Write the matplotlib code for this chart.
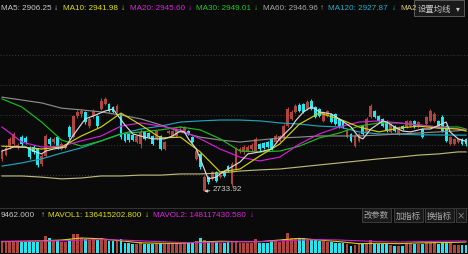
import numpy as np
import matplotlib.pyplot as plt
from matplotlib.patches import Rectangle

W, H = 468, 255
BG = '#0a0a0a'
UP = '#b0443e'
DOWN = '#22e6f0'
LATIN = ['Liberation Sans', 'DejaVu Sans']
CJK = ['Noto Sans CJK SC', 'DejaVu Sans']

# daily candles (index points)
opens = [2846, 2859, 2890, 2897, 2887, 2921, 2918, 2884, 2887, 2880,
         2828, 2856, 2915, 2904, 2921, 2880, 2884, 2956, 2921, 2994,
         3001, 3008, 2959, 2994, 2994, 3018, 3035, 3035, 3025, 3008,
         3001, 2932, 2932, 2928, 2904, 2897, 2939, 2935, 2925, 2915,
         2925, 2880, 2935, 2925, 2925, 2953, 2942, 2942, 2921, 2846,
         2863, 2736, 2783, 2777, 2801, 2783, 2801, 2821, 2759, 2811,
         2873, 2870, 2873, 2880, 2873, 2897, 2901, 2904, 2915, 2904,
         2908, 2921, 2959, 2984, 3008, 3032, 3035, 3018, 3046, 3025,
         3018, 2977, 2994, 3001, 3001, 2984, 2977, 2921, 2932, 2890,
         2908, 2959, 2939, 2990, 3011, 2994, 2984, 2977, 2939, 2959,
         2932, 2959, 2956, 2959, 2977, 2956, 2949, 2966, 2977, 2977,
         2977, 2990, 2959, 2897, 2897, 2904, 2915, 2915]
closes = [2873, 2884, 2915, 2932, 2894, 2897, 2904, 2852, 2870, 2825,
          2856, 2925, 2897, 2915, 2887, 2897, 2890, 2921, 2994, 3008,
          3011, 2973, 2984, 3011, 2959, 3046, 3053, 3011, 3008, 3028,
          2921, 2908, 2911, 2911, 2925, 2939, 2915, 2921, 2897, 2942,
          2880, 2904, 2942, 2942, 2949, 2956, 2956, 2932, 2904, 2873,
          2818, 2783, 2766, 2801, 2770, 2790, 2787, 2804, 2828, 2880,
          2880, 2887, 2887, 2894, 2915, 2880, 2884, 2887, 2880, 2925,
          2925, 2959, 3018, 3008, 3028, 3011, 3008, 3042, 3018, 2990,
          2994, 3008, 3011, 2973, 2966, 2956, 2956, 2942, 2908, 2925,
          2932, 2932, 2984, 3028, 2990, 2977, 2959, 2942, 2966, 2942,
          2956, 2949, 2977, 2977, 2956, 2973, 2921, 2990, 3011, 3001,
          2956, 2942, 2908, 2921, 2915, 2915, 2897, 2897]
highs = [2880, 2894, 2921, 2939, 2901, 2928, 2925, 2890, 2894, 2884,
         2863, 2932, 2921, 2921, 2925, 2904, 2897, 2963, 2997, 3015,
         3018, 3011, 2990, 3018, 2997, 3056, 3059, 3039, 3028, 3035,
         3004, 2935, 2935, 2932, 2928, 2949, 2942, 2939, 2928, 2946,
         2928, 2908, 2946, 2946, 2953, 2959, 2959, 2946, 2925, 2880,
         2866, 2790, 2787, 2804, 2804, 2794, 2804, 2825, 2835, 2887,
         2887, 2894, 2894, 2901, 2921, 2901, 2904, 2908, 2918, 2932,
         2928, 2966, 3025, 3015, 3035, 3039, 3039, 3049, 3053, 3028,
         3022, 3011, 3015, 3004, 3004, 2987, 2980, 2949, 2935, 2932,
         2935, 2963, 2990, 3035, 3015, 2997, 2987, 2980, 2970, 2963,
         2959, 2963, 2980, 2980, 2980, 2977, 2953, 2994, 3018, 3008,
         2980, 2997, 2963, 2925, 2918, 2918, 2918, 2918]
lows = [2839, 2856, 2880, 2890, 2880, 2890, 2897, 2846, 2863, 2818,
        2821, 2852, 2890, 2897, 2880, 2877, 2880, 2915, 2918, 2987,
        2990, 2966, 2952, 2987, 2952, 3015, 3032, 3008, 3004, 3004,
        2915, 2904, 2904, 2908, 2901, 2884, 2911, 2918, 2894, 2911,
        2877, 2877, 2932, 2921, 2921, 2946, 2939, 2928, 2901, 2842,
        2811, 2733.92, 2759, 2773, 2766, 2780, 2783, 2801, 2752, 2808,
        2866, 2863, 2870, 2873, 2870, 2873, 2880, 2884, 2877, 2901,
        2904, 2918, 2956, 2980, 3004, 3008, 3004, 3015, 3015, 2987,
        2990, 2973, 2990, 2970, 2963, 2953, 2953, 2918, 2904, 2887,
        2904, 2928, 2935, 2987, 2987, 2973, 2956, 2939, 2935, 2939,
        2928, 2946, 2953, 2956, 2953, 2953, 2918, 2963, 2973, 2973,
        2953, 2939, 2904, 2894, 2894, 2901, 2894, 2890]
# volume, millions of shares
volumes = [150, 150, 140, 140, 140, 138, 140, 150, 140, 138,
           140, 207, 184, 150, 160, 140, 140, 172, 230, 230,
           184, 172, 160, 172, 160, 184, 172, 150, 150, 160,
           172, 126, 126, 115, 115, 138, 115, 115, 115, 126,
           126, 115, 120, 126, 120, 115, 120, 120, 120, 150,
           184, 160, 150, 140, 140, 126, 126, 130, 150, 140,
           126, 126, 126, 126, 172, 126, 126, 126, 150, 150,
           140, 172, 241, 184, 184, 184, 184, 172, 172, 172,
           150, 150, 138, 138, 126, 126, 126, 115, 92, 104,
           115, 115, 115, 161, 115, 115, 115, 115, 104, 92,
           92, 92, 126, 120, 115, 115, 115, 126, 126, 138,
           115, 120, 126, 126, 104, 104, 100, 100]

# moving averages at these candle positions
ma5_idx = [0, 3, 6, 8, 10, 11, 13, 16, 18, 21, 23, 26, 28, 31, 33, 36, 38, 41, 43, 45,
           46, 47, 49, 51, 52, 54, 55, 57, 60, 62, 65, 68, 70, 73, 74, 76, 78, 79, 80, 83,
           85, 88, 90, 91, 93, 96, 97, 99, 101, 103, 106, 108, 112, 113, 115, 117]
ma5 = [2873, 2887, 2887, 2873, 2863, 2873, 2880, 2887, 2928, 2984, 2994, 3011, 3018, 2963,
       2932, 2921, 2915, 2915, 2925, 2942, 2939, 2915, 2880, 2811, 2777, 2783, 2794, 2811,
       2835, 2863, 2870, 2880, 2915, 2956, 2977, 3008, 3025, 3018, 3008, 3001, 2984, 2956,
       2921, 2915, 2949, 2977, 2973, 2956, 2942, 2939, 2949, 2949, 2973, 2939, 2915, 2906.25]
ma_idx = [0, 5, 10, 15, 20, 25, 30, 35, 40, 45, 50, 55, 60, 65, 70, 75, 80, 85, 90, 95,
          100, 105, 110, 115, 117]
ma10 = [2890, 2887, 2880, 2887, 2925, 2956, 3004, 2963, 2918, 2921, 2870, 2801, 2811, 2856,
        2897, 2966, 3004, 2984, 2956, 2939, 2952, 2959, 2952, 2949, 2941.98]
ma20 = [2956, 2904, 2887, 2890, 2908, 2925, 2959, 2970, 2959, 2946, 2915, 2880, 2852, 2839,
        2852, 2897, 2932, 2956, 2973, 2977, 2970, 2963, 2956, 2949, 2945.60]
ma30 = [3053, 3025, 2973, 2911, 2890, 2908, 2932, 2939, 2946, 2956, 2946, 2915, 2873, 2870,
        2873, 2890, 2918, 2935, 2959, 2970, 2970, 2963, 2956, 2956, 2949.01]
ma60 = [3059, 3049, 3039, 3021, 3015, 3008, 2997, 2984, 2963, 2939, 2921, 2911, 2904, 2911,
        2918, 2921, 2925, 2925, 2925, 2928, 2932, 2935, 2939, 2943, 2946.96]
ma120 = [2821, 2832, 2846, 2866, 2884, 2908, 2932, 2949, 2959, 2973, 2977, 2980, 2980, 2977,
         2970, 2966, 2959, 2956, 2939, 2932, 2931, 2929, 2928.5, 2928, 2927.87]
ma250 = [2787, 2787, 2783, 2777, 2780, 2787, 2787, 2790, 2790, 2794, 2794, 2797, 2804, 2808,
         2811, 2818, 2825, 2832, 2839, 2846, 2852, 2859, 2863, 2870, 2870]
mavol1 = [140, 145, 150, 160, 185, 175, 150, 125, 120, 120, 135, 145, 140, 140, 160, 180,
          160, 140, 115, 120, 115, 125, 128, 132, 136.4]
mavol2 = [145, 145, 148, 150, 160, 165, 160, 150, 140, 130, 128, 135, 140, 140, 150, 160,
          165, 160, 150, 140, 135, 140, 145, 148, 148.1]
grid_levels = [3204, 3101, 2997, 2894, 2790]

o = np.array(opens, float)
c = np.array(closes, float)
hi = np.array(highs, float)
lo = np.array(lows, float)
n = len(o)
x = np.arange(n)
up = c >= o
colors = np.where(up, UP, DOWN)


def box(x0, y0, x1, y1):
    return [x0 / W, 1 - y1 / H, (x1 - x0) / W, (y1 - y0) / H]


def ftext(px, py, s, color, size=5.9, family=LATIN, **kw):
    fig.text(px / W, 1 - py / H, s, color=color, fontsize=size, family=family,
             va='center', **kw)


fig = plt.figure(figsize=(W / 100, H / 100), dpi=100, facecolor=BG)

# price panel
ax = fig.add_axes(box(0, 17, W, 207))
ax.set_facecolor(BG)
ax.set_xlim(-0.5, n - 0.5)
ax.set_ylim(2683.4, 3338.9)
for s in ax.spines.values():
    s.set_visible(False)
ax.set_xticks([])
ax.set_yticks(grid_levels)
ax.tick_params(length=0, labelleft=False)
ax.yaxis.grid(True, color='#3c3c3c', ls=(0, (1, 2)), lw=0.7)

ax.vlines(x, lo, hi, colors=colors, lw=0.8, zorder=2)
body = np.maximum(np.abs(c - o), 2.5)
ax.bar(x, body, bottom=np.minimum(o, c), width=0.72, color=colors, lw=0, zorder=3)

ma_lw = 0.85
ax.plot(ma_idx, ma250, color='#b8b878', lw=ma_lw, zorder=4)
ax.plot(ma_idx, ma120, color='#1aa6b8', lw=ma_lw, zorder=4)
ax.plot(ma_idx, ma60, color='#8c8c8c', lw=ma_lw, zorder=4)
ax.plot(ma_idx, ma30, color='#1cbc1c', lw=ma_lw, zorder=4)
ax.plot(ma_idx, ma20, color='#d81cd8', lw=ma_lw, zorder=4)
ax.plot(ma_idx, ma10, color='#d2d200', lw=ma_lw, zorder=4)
ax.plot(ma5_idx, ma5, color='#d8d8d8', lw=ma_lw, zorder=4)

low_i = int(np.argmin(lo))
ax.annotate(f'{lo[low_i]:.2f}', xy=(low_i, lo[low_i]), xytext=(6, 2),
            textcoords='offset points', color='#d0d0d0', fontsize=5.9, family=LATIN,
            va='center', arrowprops=dict(arrowstyle='-|>', color='#d0d0d0', lw=0.7,
                                         mutation_scale=4, shrinkA=0, shrinkB=0))

# volume panel
vx = fig.add_axes(box(0, 224, W, 254))
vx.set_facecolor(BG)
vx.set_xlim(-0.5, n - 0.5)
vx.set_ylim(0, 370)
vx.axis('off')
vx.bar(x, volumes, width=0.72, color=colors, lw=0)
vx.plot(ma_idx, mavol1, color='#d2d200', lw=0.8)
vx.plot(ma_idx, mavol2, color='#d81cd8', lw=0.8)

# separator between panels
fig.add_artist(plt.Line2D([0, 1], [1 - 209 / H] * 2, color='#333333', lw=0.8))

# header row
ftext(1, 9, 'MA5: 2906.25', '#c8c8c8')
ftext(54, 9, '↓', '#c8c8c8')
ftext(63, 9, 'MA10: 2941.98', '#e0e000')
ftext(121, 9, '↓', '#e0e000')
ftext(130, 9, 'MA20: 2945.60', '#e020e0')
ftext(188, 9, '↓', '#e020e0')
ftext(196, 9, 'MA30: 2949.01', '#20c820')
ftext(254, 9, '↓', '#20c820')
ftext(263, 9, 'MA60: 2946.96', '#a8a8a8')
ftext(320, 9, '↑', '#a8a8a8')
ftext(328, 9, 'MA120: 2927.87', '#20b0c8')
ftext(392, 9, '↓', '#20b0c8')
ftext(400, 9, 'MA2', '#d8c878')
fig.add_artist(Rectangle((414 / W, 1 - 17 / H), 50 / W, 16 / H, transform=fig.transFigure,
                         facecolor='#1a1a1a', edgecolor='#5a5a5a', lw=0.7))
ftext(418, 9, '设置均线', '#c8c8c8', size=6.0, family=CJK)
ftext(456, 9, '▾', '#c8c8c8', size=5.5, family=['DejaVu Sans'])

# volume header row
ftext(1, 216, '9462.000', '#c8c8c8')
ftext(41, 216, '↑', '#c8c8c8')
ftext(48, 216, 'MAVOL1: 136415202.800', '#e0e000')
ftext(145, 216, '↓', '#e0e000')
ftext(153, 216, 'MAVOL2: 148117430.580', '#e020e0')
ftext(250, 216, '↓', '#e020e0')
for bx0, bx1, label in [(362, 391, '改参数'), (394, 423, '加指标'), (425, 454, '换指标'),
                        (456, 466, '×')]:
    fig.add_artist(Rectangle((bx0 / W, 1 - 223 / H), (bx1 - bx0) / W, 14 / H,
                             transform=fig.transFigure, facecolor='#1a1a1a',
                             edgecolor='#3c3c3c', lw=0.7))
    ftext((bx0 + bx1) / 2, 216, label, '#a8a8a8', size=6.0, family=CJK, ha='center')

fig.savefig('out.png', dpi=100, facecolor=BG)
